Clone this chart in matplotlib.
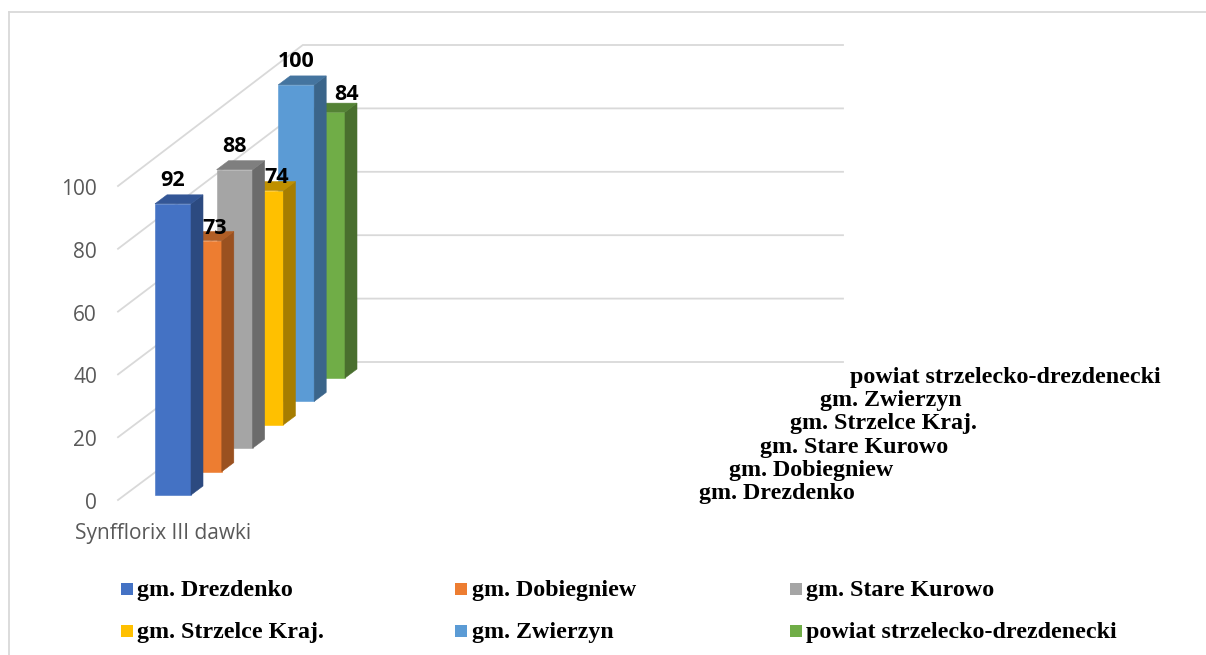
import matplotlib
matplotlib.use("Agg")
import matplotlib.pyplot as plt
from matplotlib.patches import Polygon, Rectangle

series_names = ["gm. Drezdenko", "gm. Dobiegniew", "gm. Stare Kurowo",
                "gm. Strzelce Kraj.", "gm. Zwierzyn", "powiat strzelecko-drezdenecki"]
values = [92, 73, 88, 74, 100, 84]
y_ticks = [0, 20, 40, 60, 80, 100]
category = "Synfflorix III dawki"

front_colors = ["#4472C4", "#ED7D31", "#A5A5A5", "#FFC000", "#5B9BD5", "#70AD47"]
side_colors = ["#2C4A80", "#9A5120", "#6B6B6B", "#A67D00", "#3B658A", "#496F2E"]
top_colors = ["#335696", "#B15E25", "#7F7F7F", "#BF9000", "#44749F", "#548235"]
label_dx = [0, 11, 0, 11, 0, 20]
label_dy = [-23, -12, -23, -13, -23, -18]

W, H = 1206, 655
Y0_PX = 500.0
PX_PER_UNIT = 3.165
FRONT_SCALE = 3.14
BACK_Y0, BACK_SCALE = 362.0, 3.17
BAR_W = 36.0
DX, DY = 30.8, 23.4      # shift per series in depth
SX, SY = 12.0, 9.0       # visible depth of one bar
GRID = "#D9D9D9"
SERIF = "Liberation Serif"
SANS = "Open Sans"

fig = plt.figure(figsize=(W / 100, H / 100), dpi=100, facecolor="white")
ax = fig.add_axes([0, 0, 1, 1])
ax.set_xlim(0, W)
ax.set_ylim((Y0_PX - H) / PX_PER_UNIT, Y0_PX / PX_PER_UNIT)
ax.axis("off")


def up(px):
    """Length in pixels expressed in value units."""
    return px / PX_PER_UNIT


def ypx(px):
    return (Y0_PX - px) / PX_PER_UNIT


# chart frame
ax.plot([9, 9], [ypx(12), ypx(H)], color=GRID, lw=1.3, zorder=1)
ax.plot([9, W], [ypx(12), ypx(12)], color=GRID, lw=1.3, zorder=1)

# gridlines: side wall + back wall
depth_x = DX * 6
for t in y_ticks:
    front_y = ypx(Y0_PX - t * FRONT_SCALE)
    back_y = ypx(BACK_Y0 - t * BACK_SCALE)
    ax.plot([118, 118 + depth_x, 843], [front_y, back_y, back_y],
            color=GRID, lw=1.3, zorder=1, solid_joinstyle="miter")
    ax.text(97, front_y - up(3.5), str(t), ha="right", va="center", fontsize=15,
            family=SANS, color="#595959")

ax.text(163, ypx(533.5), category, ha="center", va="center", fontsize=15,
        family=SANS, color="#595959")

# bars, back to front
for i in range(len(values) - 1, -1, -1):
    v = values[i]
    x0 = 155 + DX * i
    base = up(5) + up(DY) * i
    top = base + v
    x1 = x0 + BAR_W
    sy = up(SY)
    ax.add_patch(Polygon([(x0, base), (x1, base), (x1, top), (x0, top)],
                         closed=True, fc=front_colors[i], ec=front_colors[i],
                         lw=0.4, zorder=3))
    ax.add_patch(Polygon([(x1, base), (x1 + SX, base + sy), (x1 + SX, top + sy), (x1, top)],
                         closed=True, fc=side_colors[i], ec=side_colors[i],
                         lw=0.4, zorder=3))
    ax.add_patch(Polygon([(x0, top), (x1, top), (x1 + SX, top + sy), (x0 + SX, top + sy)],
                         closed=True, fc=top_colors[i], ec=top_colors[i],
                         lw=0.4, zorder=3))

# data labels above every bar
for i, v in enumerate(values):
    xc = 155 + DX * i + BAR_W / 2 + label_dx[i]
    yc = up(5) + up(DY) * i + v - up(label_dy[i])
    ax.text(xc, yc, str(v), ha="center", va="center", fontsize=15.5,
            fontweight="bold", family=SANS, color="black", zorder=5)

# series axis labels
for i, name in enumerate(series_names):
    ax.text(699 + 30.3 * i, ypx(494) + up(DY) * i, name, ha="left", va="center",
            fontsize=17.3, fontweight="bold", family=SERIF, color="black", zorder=4)

# legend
leg_sq_x = [121, 455, 790]
leg_txt_x = [137, 472, 806]
leg_y = [589, 631]
for i, name in enumerate(series_names):
    col, row = i % 3, i // 3
    ax.add_patch(Rectangle((leg_sq_x[col], ypx(leg_y[row] + 6)), 12, up(12),
                           fc=front_colors[i], ec="none", zorder=4))
    ax.text(leg_txt_x[col], ypx(leg_y[row] + 1.5), name, ha="left", va="center",
            fontsize=17.3, fontweight="bold", family=SERIF, color="black", zorder=4)

fig.savefig("out.png", dpi=100, facecolor="white")
